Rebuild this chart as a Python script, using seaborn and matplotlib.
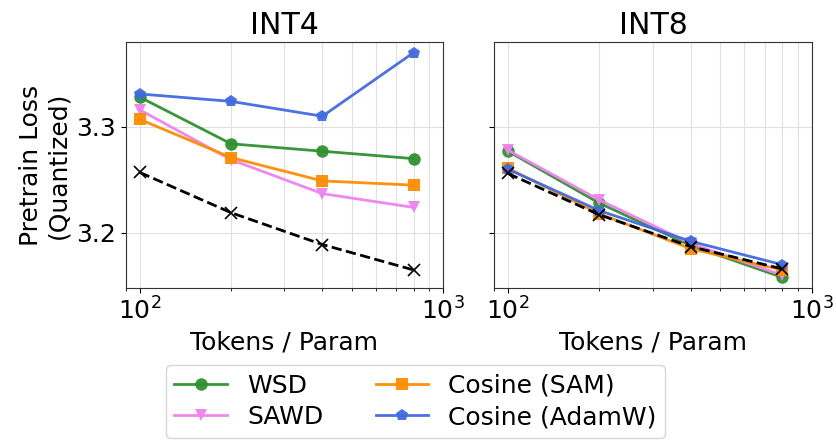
import numpy as np
import pandas as pd
import matplotlib
matplotlib.use("Agg")
import matplotlib.pyplot as plt
import seaborn as sns

tokens = [100, 200, 400, 800]
methods = ["WSD", "SAWD", "Cosine (SAM)", "Cosine (AdamW)"]

# INT4 pretrain loss (quantized)
int4_wsd = [3.328, 3.284, 3.277, 3.270]
int4_sawd = [3.316, 3.269, 3.237, 3.224]
int4_cos_sam = [3.307, 3.271, 3.249, 3.245]
int4_cos_adamw = [3.331, 3.324, 3.310, 3.370]
int4_ref = [3.257, 3.219, 3.189, 3.165]

# INT8 pretrain loss (quantized)
int8_wsd = [3.277, 3.228, 3.188, 3.158]
int8_sawd = [3.278, 3.231, 3.190, 3.160]
int8_cos_sam = [3.261, 3.218, 3.185, 3.165]
int8_cos_adamw = [3.260, 3.221, 3.192, 3.170]
int8_ref = [3.256, 3.217, 3.187, 3.166]

colors = ["#2e912e", "#ee82ee", "#ff8c00", "#4169e1"]
markers = ["o", "v", "s", "p"]

plt.rcParams["font.family"] = ["DejaVu Sans"]
plt.rcParams["font.size"] = 18

fig = plt.figure(figsize=(8.36, 4.45), dpi=100)
ax1 = fig.add_axes([0.1507, 0.3528, 0.3792, 0.5528])
ax2 = fig.add_axes([0.591, 0.3528, 0.380, 0.5528], sharey=ax1)

panels = [
    (ax1, "INT4", [int4_wsd, int4_sawd, int4_cos_sam, int4_cos_adamw], int4_ref),
    (ax2, "INT8", [int8_wsd, int8_sawd, int8_cos_sam, int8_cos_adamw], int8_ref),
]

for ax, title, series, ref in panels:
    for name, vals, c, m in zip(methods, series, colors, markers):
        df = pd.DataFrame({"tokens": tokens, "loss": vals})
        sns.lineplot(data=df, x="tokens", y="loss", ax=ax, color=c, marker=m,
                     markersize=9, linewidth=2, markeredgewidth=0, alpha=0.95,
                     label=name, legend=False)
    dref = pd.DataFrame({"tokens": tokens, "loss": ref})
    sns.lineplot(data=dref, x="tokens", y="loss", ax=ax, color="black", marker="x",
                 markersize=8, linewidth=2, linestyle="--", markeredgewidth=1.2,
                 markeredgecolor="black", legend=False)
    ax.set_xscale("log")
    ax.set_xlim(90, 1000)
    ax.set_axisbelow(True)
    ax.grid(True, which="major", color="#e0e0e0", linewidth=0.8)
    ax.grid(True, which="minor", axis="x", color="#e0e0e0", linewidth=0.8)
    ax.set_title(title, fontsize=21.6)
    ax.set_xlabel("Tokens / Param", fontsize=18)
    ax.tick_params(labelsize=18)
    for s in ax.spines.values():
        s.set_color("#333333")

ax1.set_ylim(3.148, 3.380)
ax1.set_yticks([3.2, 3.3])
ax1.set_ylabel("Pretrain Loss\n(Quantized)", fontsize=18)
ax2.set_ylabel("")
ax2.tick_params(labelleft=False)

handles, labels = ax1.get_legend_handles_labels()
fig.legend(handles[:4], labels[:4], loc="lower center", ncol=2,
           bbox_to_anchor=(0.497, -0.012), fontsize=18, frameon=True,
           columnspacing=2.1, handlelength=2.1, borderpad=0.35,
           labelspacing=0.3)

fig.savefig("out.png", dpi=100)
